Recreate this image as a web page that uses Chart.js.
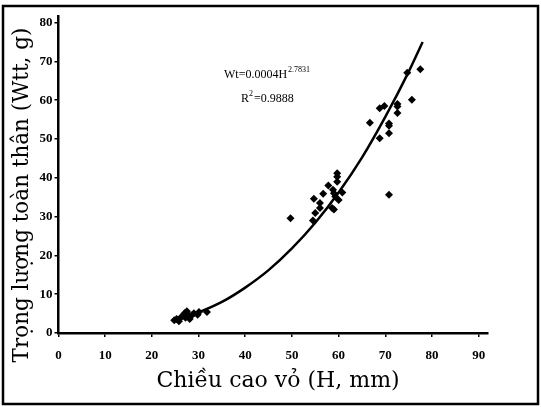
<!DOCTYPE html>
<html>
<head>
<meta charset="utf-8">
<script src="https://cdn.jsdelivr.net/npm/chart.js@4/dist/chart.umd.min.js"></script>
<style>
html,body{margin:0;padding:0;background:#fff;}
#wrap{width:541px;height:407px;position:relative;}
</style>
</head>
<body>
<div id="wrap"><canvas id="c" width="541" height="407"></canvas></div>
<script>
// Observed data: shell height H (mm) vs total weight Wtt (g)
const obsH = [24.8,25.3,25.8,26.3,27.0,27.2,27.5,27.8,28.1,28.5,29.0,29.8,30.1,31.8,
  49.7,54.7,55.0,54.5,56.0,56.0,56.7,57.8,58.6,58.8,59.0,59.7,59.7,59.7,59.3,60.0,60.8,59.0,
  66.7,68.8,68.8,69.8,70.8,70.8,70.8,70.8,72.6,72.6,72.6,74.7,75.7,77.5];
const obsW = [3.3,3.6,3.0,4.1,5.1,3.9,5.6,4.7,3.6,4.5,5.1,4.7,5.4,5.4,
  29.6,34.6,30.9,29.0,33.5,32.2,35.9,38.0,32.2,36.9,31.8,41.2,40.3,39.0,35.2,34.3,36.2,36.0,
  54.2,50.2,57.9,58.5,54.0,53.4,51.5,35.6,59.0,58.4,56.7,67.1,60.1,68.0];
// Trend curve
const fitH = [25,30,35,40,45,50,55,60,65,70,75,78];
const fitW = [3.2,5.3,8.0,11.7,16.2,21.8,28.4,36.2,45.2,55.7,67.3,75.0];
// Tick labels
const xTicks = [0,10,20,30,40,50,60,70,80,90];
const yTicks = [0,10,20,30,40,50,60,70,80];
const xTitle = 'Chiều cao vỏ (H, mm)';
const yTitle = 'Trọng lượng toàn thân (Wtt, g)';
const eqMain = 'Wt=0.0004H';
const eqExp = '2.7831';
const r2Text = ['R', '2', '=0.9888'];

const tickFont = {family:'"Liberation Serif", serif', size:13, weight:'bold'};

const deco = {
  id:'deco',
  afterDraw(chart){
    const ctx = chart.ctx;
    ctx.save();
    // outer frame
    ctx.strokeStyle = '#000';
    ctx.lineWidth = 2.5;
    ctx.strokeRect(3, 6, 535, 398);
    // axis titles
    ctx.fillStyle = '#000';
    ctx.textAlign = 'center';
    ctx.textBaseline = 'middle';
    ctx.font = '22px "DejaVu Serif", serif';
    ctx.fillText(xTitle, 278, 381);
    ctx.save();
    ctx.translate(22, 195);
    ctx.rotate(-Math.PI/2);
    ctx.font = '21.5px "DejaVu Serif", serif';
    ctx.fillText(yTitle, 0, 0);
    ctx.restore();
    // equation
    ctx.textAlign = 'left';
    ctx.textBaseline = 'alphabetic';
    ctx.font = '12px "Liberation Serif", serif';
    const x0 = 224, y0 = 78;
    ctx.fillText(eqMain, x0, y0);
    const w1 = ctx.measureText(eqMain).width;
    ctx.font = '8px "Liberation Serif", serif';
    ctx.fillText(eqExp, x0 + w1 + 1, y0 - 6);
    ctx.font = '12px "Liberation Serif", serif';
    const x1 = 241, y1 = 102;
    ctx.fillText(r2Text[0], x1, y1);
    const wr = ctx.measureText(r2Text[0]).width;
    ctx.font = '8px "Liberation Serif", serif';
    ctx.fillText(r2Text[1], x1 + wr, y1 - 6);
    const w2 = ctx.measureText(r2Text[1]).width;
    ctx.font = '12px "Liberation Serif", serif';
    ctx.fillText(r2Text[2], x1 + wr + w2 + 1, y1);
    ctx.restore();
  }
};

new Chart(document.getElementById('c'), {
  type:'scatter',
  data:{
    datasets:[
      {
        type:'line',
        label:'fit',
        data: fitH.map((h,i)=>({x:h, y:fitW[i]})),
        borderColor:'#000',
        borderWidth:2.5,
        pointRadius:0,
        cubicInterpolationMode:'monotone',
        fill:false,
        order:1
      },
      {
        label:'obs',
        data: obsH.map((h,i)=>({x:h, y:obsW[i]})),
        pointStyle:'rectRot',
        pointRadius:4,
        backgroundColor:'#000',
        borderColor:'#000',
        borderWidth:0,
        order:0
      }
    ]
  },
  options:{
    responsive:false,
    animation:false,
    layout:{padding:{top:16, right:53, bottom:0, left:0}},
    plugins:{legend:{display:false}, tooltip:{enabled:false}},
    scales:{
      x:{
        type:'linear', min:0, max:92,
        afterBuildTicks(axis){ axis.ticks = xTicks.map(v=>({value:v})); },
        afterFit(scale){ scale.height = 74; },
        ticks:{color:'#000', font:tickFont, padding:11, maxRotation:0, autoSkip:false},
        grid:{drawOnChartArea:false, drawTicks:true, tickLength:4, color:'#000', lineWidth:1.5},
        border:{color:'#000', width:2.5}
      },
      y:{
        type:'linear', min:0, max:81.7,
        afterBuildTicks(axis){ axis.ticks = yTicks.map(v=>({value:v})); },
        afterFit(scale){ scale.width = 58.5; },
        ticks:{color:'#000', font:tickFont, padding:2, autoSkip:false},
        grid:{drawOnChartArea:false, drawTicks:true, tickLength:4, color:'#000', lineWidth:1.5},
        border:{color:'#000', width:2.5}
      }
    }
  },
  plugins:[deco]
});
</script>
</body>
</html>
